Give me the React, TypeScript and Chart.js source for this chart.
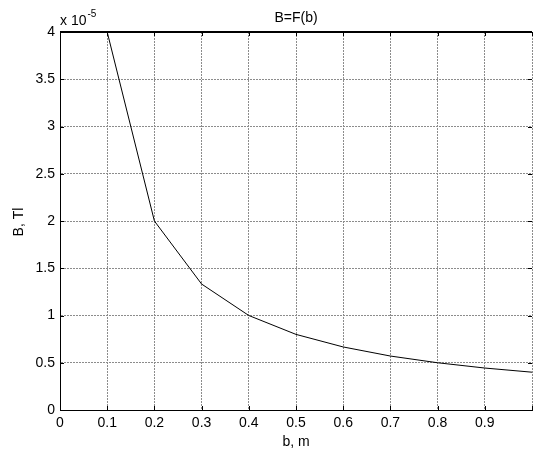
import React, { useEffect, useRef } from 'react';
import { Chart, registerables } from 'chart.js';

Chart.register(...registerables);

// Data (B in units of 1e-5 Tl)
const bValues = [0.1, 0.2, 0.3, 0.4, 0.5, 0.6, 0.7, 0.8, 0.9, 1.0];
const BValues = [4.0, 2.0, 1.333, 1.0, 0.8, 0.667, 0.571, 0.5, 0.444, 0.4];
const xTickValues = [0, 0.1, 0.2, 0.3, 0.4, 0.5, 0.6, 0.7, 0.8, 0.9];
const yTickValues = [0, 0.5, 1, 1.5, 2, 2.5, 3, 3.5, 4];

const titleText = 'B=F(b)';
const xLabel = 'b, m';
const yLabel = 'B, Tl';
const expBase = 'x 10';
const expPow = '-5';

const FONT = '"Liberation Sans", Arial, Helvetica, sans-serif';
const FS = 14;

const decorPlugin = {
  id: 'decor',
  afterDraw(chart: any) {
    const { ctx, chartArea } = chart;
    const { left, right, top, bottom } = chartArea;
    const xs = chart.scales.x;
    const ys = chart.scales.y;
    ctx.save();
    // inward ticks
    ctx.strokeStyle = '#000';
    ctx.lineWidth = 1;
    ctx.beginPath();
    for (const v of xTickValues.concat([1])) {
      const px = Math.round(xs.getPixelForValue(v)) + 0.5;
      ctx.moveTo(px, bottom);
      ctx.lineTo(px, bottom - 4);
      ctx.moveTo(px, top);
      ctx.lineTo(px, top + 4);
    }
    for (const v of yTickValues) {
      const py = Math.round(ys.getPixelForValue(v)) + 0.5;
      ctx.moveTo(left, py);
      ctx.lineTo(left + 4, py);
      ctx.moveTo(right, py);
      ctx.lineTo(right - 4, py);
    }
    ctx.stroke();
    // top border
    ctx.lineWidth = 2;
    ctx.beginPath();
    ctx.moveTo(left, top);
    ctx.lineTo(right, top);
    ctx.stroke();

    // texts
    ctx.fillStyle = '#000';
    ctx.font = `${FS}px ${FONT}`;
    ctx.textAlign = 'center';
    ctx.textBaseline = 'alphabetic';
    ctx.fillText(titleText, (left + right) / 2, 22);
    ctx.fillText(xLabel, (left + right) / 2, 446);
    ctx.save();
    ctx.translate(23, (top + bottom) / 2 + 1);
    ctx.rotate(-Math.PI / 2);
    ctx.fillText(yLabel, 0, 0);
    ctx.restore();
    ctx.textAlign = 'left';
    ctx.fillText(expBase, 60, 25);
    const w = ctx.measureText(expBase).width;
    ctx.font = `10px ${FONT}`;
    ctx.fillText(expPow, 60 + w + 1, 17);
    ctx.restore();
  },
};

export default function App() {
  const ref = useRef<HTMLCanvasElement>(null);
  useEffect(() => {
    if (!ref.current) return;
    const chart = new Chart(ref.current, {
      type: 'line',
      data: {
        datasets: [
          {
            data: bValues.map((b, i) => ({ x: b, y: BValues[i] })),
            borderColor: '#000',
            borderWidth: 1,
            pointRadius: 0,
            tension: 0,
            fill: false,
          },
        ],
      },
      options: {
        responsive: false,
        animation: false,
        devicePixelRatio: 1,
        layout: { padding: { top: 32, left: 0, right: 0, bottom: 0 } },
        plugins: { legend: { display: false }, tooltip: { enabled: false }, title: { display: false } },
        scales: {
          x: {
            type: 'linear',
            min: 0,
            max: 1,
            afterFit: (s: any) => { s.height = 39; },
            afterBuildTicks: (s: any) => { s.ticks = xTickValues.concat([1]).map((v) => ({ value: v })); },
            ticks: {
              autoSkip: false,
              maxRotation: 0,
              padding: 5,
              color: '#000',
              font: { family: FONT, size: FS },
              callback: (v: any) => (v >= 0.999 ? '' : String(Math.round(v * 10) / 10)),
            },
            grid: { color: '#8c8c8c', drawTicks: false, lineWidth: 1 },
            border: { display: true, color: '#000', width: 1, dash: [2, 1] },
          },
          y: {
            type: 'linear',
            min: 0,
            max: 4,
            afterFit: (s: any) => { s.width = 60; },
            afterBuildTicks: (s: any) => { s.ticks = yTickValues.map((v) => ({ value: v })); },
            ticks: {
              autoSkip: false,
              padding: 5,
              color: '#000',
              font: { family: FONT, size: FS },
              callback: (v: any) => String(v),
            },
            grid: { color: '#8c8c8c', drawTicks: false, lineWidth: 1 },
            border: { display: true, color: '#000', width: 1, dash: [2, 1] },
          },
        },
      },
      plugins: [decorPlugin],
    });
    return () => chart.destroy();
  }, []);
  return (
    <div style={{ position: 'absolute', left: 0, top: 0, width: 537, height: 449, background: '#fff' }}>
      <canvas ref={ref} width={537} height={449} />
    </div>
  );
}
